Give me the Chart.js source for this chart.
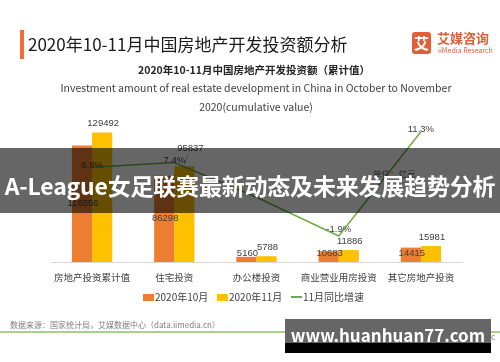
<!DOCTYPE html>
<html>
<head>
<meta charset="utf-8">
<script src="https://cdn.jsdelivr.net/npm/chart.js@4.4.1/dist/chart.umd.min.js"></script>
<style>
  body { margin: 0; background: #fff; font-family: "Noto Sans CJK SC", "Noto Sans", sans-serif; }
  #page { position: relative; width: 500px; height: 362px; overflow: hidden; background: #fff; }
  #wrap { position: absolute; left: 0; top: 0; width: 500px; height: 362px; }
  .abs { position: absolute; white-space: nowrap; }
  .lg { position: absolute; top: 290px; font-size: 10px; color: #404040; line-height: 14px; }
  .sw { display: inline-block; width: 11px; height: 7px; vertical-align: -0px; margin-right: 1px; }
</style>
</head>
<body>
<div id="page">
  <div id="wrap"><canvas id="chart"></canvas></div>

  <div class="abs" style="left:20px;top:30px;width:4px;height:29px;background:#f26b3a;"></div>
  <div class="abs" style="left:28px;top:32px;font-size:17px;color:#1a1a1a;line-height:24px;">2020年10-11月中国房地产开发投资额分析</div>

  <div class="abs" style="left:412px;top:32px;width:19px;height:22px;background:#e0603a;border-radius:3px;color:#fff;font-size:15px;font-weight:bold;line-height:22px;text-align:center;">艾</div>
  <div class="abs" style="left:437px;top:30px;font-size:13px;font-weight:bold;color:#e0603a;line-height:16px;">艾媒咨询</div>
  <div class="abs" style="left:438px;top:46px;font-size:7px;color:#e0603a;line-height:9px;">iiMedia Research</div>

  <div class="abs" style="left:0;width:508px;text-align:center;top:62px;font-size:10.5px;font-weight:bold;color:#262626;line-height:16px;">2020年10-11月中国房地产开发投资额（累计值）</div>
  <div class="abs" style="left:0;width:512px;text-align:center;top:80px;font-size:10.5px;color:#404040;line-height:16px;">Investment amount of real estate development in China in October to November</div>
  <div class="abs" style="left:0;width:512px;text-align:center;top:99px;font-size:10.5px;color:#404040;line-height:16px;">2020(cumulative value)</div>

  <div class="abs" style="left:373px;top:167px;font-size:8.5px;color:#595959;line-height:12px;">单位：亿元</div>

  <div class="lg" style="left:143px;"><span class="sw" style="background:#ed7d31;"></span>2020年10月</div>
  <div class="lg" style="left:217px;"><span class="sw" style="background:#ffc000;"></span>2020年11月</div>
  <div class="lg" style="left:291px;"><span class="sw" style="background:#70ad47;height:2px;vertical-align:3px;"></span>11月同比增速</div>

  <div class="abs" style="left:10px;top:319px;font-size:8px;color:#7f7f7f;line-height:11px;">数据来源：国家统计局，艾媒数据中心（data.iimedia.cn）</div>
  <div class="abs" style="left:0;top:331px;width:500px;height:2px;background:#a9d18e;"></div>
  <div class="abs" style="right:5px;top:331px;font-size:8px;color:#7f7f7f;line-height:11px;">© iiMedia Research Inc</div>

  <div class="abs" style="left:0;top:148px;width:500px;height:65px;background:rgba(0,0,0,0.6);"></div>
  <div class="abs" style="left:0;width:500px;text-align:center;top:170px;font-size:23px;font-weight:bold;color:#fff;line-height:30px;letter-spacing:-0.2px;">A-League女足联赛最新动态及未来发展趋势分析</div>

  <div class="abs" style="left:285px;top:319px;width:206px;height:24px;background:#666;"></div>
  <div class="abs" style="left:285px;top:343px;width:206px;height:10px;background:#000;"></div>
  <div class="abs" style="left:285px;width:206px;text-align:center;top:324px;font-size:17px;font-weight:bold;color:#fff;line-height:22px;">www.huanhuan77.com</div>
</div>

<script>
// data
var categories = ["房地产投资累计值", "住宅投资", "办公楼投资", "商业营业用房投资", "其它房地产投资"];
var oct2020 = [116556, 86298, 5160, 10683, 14415];
var nov2020 = [129492, 95837, 5788, 11886, 15981];
var growthNov = [6.8, 7.4, 3.0, -1.9, 11.3];
var growthLabels = ["6.8%", "7.4%", "", "-1.9%", "11.3%"];

// value labels, drawn roughly where excel put them
var labelPlugin = {
  id: "valueLabels",
  afterDatasetsDraw: function (chart) {
    var ctx = chart.ctx;
    var base = chart.chartArea.bottom;
    ctx.save();
    ctx.font = "9.5px 'Liberation Sans', Arial, sans-serif";
    ctx.fillStyle = "#404040";
    ctx.textAlign = "center";
    ctx.textBaseline = "middle";

    chart.getDatasetMeta(0).data.forEach(function (bar, i) {
      var y = Math.min((bar.y + base) / 2, base - 9);
      ctx.fillText(String(oct2020[i]), bar.x + 1, y);
    });

    chart.getDatasetMeta(1).data.forEach(function (bar, i) {
      if (i == 1) {
        // moved up with a leader line, like the original
        ctx.strokeStyle = "#a6a6a6";
        ctx.lineWidth = 0.8;
        ctx.beginPath();
        ctx.moveTo(bar.x + 4, bar.y - 12);
        ctx.lineTo(bar.x, bar.y - 2);
        ctx.stroke();
        ctx.fillText(String(nov2020[i]), bar.x + 6, bar.y - 18);
      } else {
        ctx.fillText(String(nov2020[i]), bar.x + 1, bar.y - 9);
      }
    });

    chart.getDatasetMeta(2).data.forEach(function (pt, i) {
      var dy = growthNov[i] < 0 ? -7 : -2;
      if (growthLabels[i]) ctx.fillText(growthLabels[i], pt.x, pt.y + dy);
    });
    ctx.restore();
  }
};

var ctx = document.getElementById("chart").getContext("2d");
var myChart = new Chart(ctx, {
  type: "bar",
  data: {
    labels: categories,
    datasets: [
      {
        label: "2020年10月",
        data: oct2020,
        backgroundColor: "#ed7d31",
        categoryPercentage: 0.49,
        barPercentage: 1.0,
        order: 1,
      },
      {
        label: "2020年11月",
        data: nov2020,
        backgroundColor: "#ffc000",
        categoryPercentage: 0.49,
        barPercentage: 1.0,
        order: 1,
      },
      {
        type: "line",
        label: "11月同比增速",
        data: growthNov,
        yAxisID: "y1",
        borderColor: "#70ad47",
        borderWidth: 1.5,
        pointRadius: 0,
        tension: 0,
        order: 0,
      },
    ],
  },
  options: {
    responsive: true,
    maintainAspectRatio: false,
    animation: false,
    layout: { padding: { left: 51, right: 38, top: 112, bottom: 0 } },
    plugins: {
      legend: { display: false },
      tooltip: { enabled: false },
    },
    scales: {
      x: {
        grid: { display: true, drawOnChartArea: false, drawTicks: false },
        border: { display: true, color: "#d9d9d9", width: 1 },
        ticks: {
          padding: 10,
          color: "#404040",
          font: { size: 9.5, family: "'Noto Sans CJK SC', sans-serif" },
          maxRotation: 0,
          autoSkip: false,
        },
        afterFit: function (scale) { scale.height = 100; },
      },
      y: { display: false, min: 0, max: 150000 },
      y1: { display: false, position: "right", min: -5.2, max: 13.8 },
    },
  },
  plugins: [labelPlugin],
});
</script>
</body>
</html>
